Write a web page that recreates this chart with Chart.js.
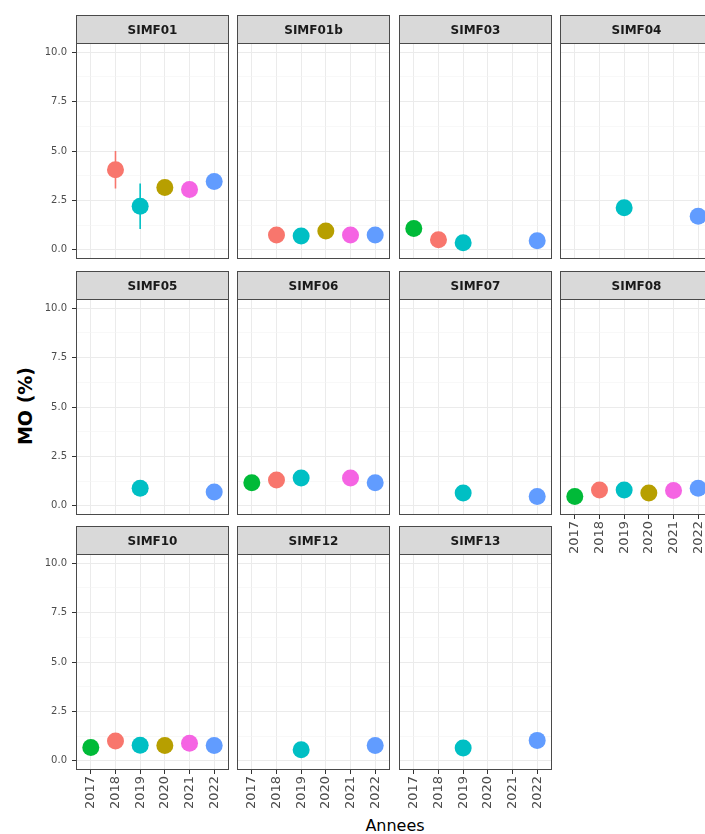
<!DOCTYPE html>
<html>
<head>
<meta charset="utf-8">
<script src="https://cdn.jsdelivr.net/npm/chart.js@4/dist/chart.umd.min.js"></script>
<style>
  html, body { margin: 0; padding: 0; background: #fff; width: 705px; height: 834px; overflow: hidden; position: relative; font-family: "DejaVu Sans", sans-serif; }
  canvas.panel { position: absolute; }
  #ytitle { position: absolute; left: 25px; top: 406px; transform: translate(-50%, -50%) rotate(-90deg); font-weight: bold; font-size: 19px; color: #000; white-space: nowrap; }
  #xtitle { position: absolute; left: 395px; top: 825px; transform: translate(-50%, -50%); font-size: 16px; color: #000; white-space: nowrap; }
</style>
</head>
<body>
<div id="ytitle">MO (%)</div>
<div id="xtitle">Annees</div>
<script>
// Years on the x axis and the colour given to each year
const years = ['2017', '2018', '2019', '2020', '2021', '2022'];
const yearColors = ['#00BA38', '#F8766D', '#00BFC4', '#B79F00', '#F564E3', '#619CFF'];

// y axis breaks (labelled) and minor grid positions
const yTicks = [0, 2.5, 5, 7.5, 10];
const yMinor = [1.25, 3.75, 6.25, 8.75];

// Sites, in facet order
const sites = ['SIMF01', 'SIMF01b', 'SIMF03', 'SIMF04', 'SIMF05', 'SIMF06', 'SIMF07', 'SIMF08', 'SIMF10', 'SIMF12', 'SIMF13'];

// Organic matter (%) per year, 2017..2022 (null = no sample)
const SIMF01  = [null, 4.05, 2.2,  3.15, 3.05, 3.45];
const SIMF01b = [null, 0.75, 0.7,  0.95, 0.75, 0.75];
const SIMF03  = [1.08, 0.5,  0.35, null, null, 0.45];
const SIMF04  = [null, null, 2.13, null, null, 1.7];
const SIMF05  = [null, null, 0.89, null, null, 0.69];
const SIMF06  = [1.16, 1.3,  1.4,  null, 1.4,  1.16];
const SIMF07  = [null, null, 0.64, null, null, 0.47];
const SIMF08  = [0.47, 0.8,  0.8,  0.64, 0.77, 0.89];
const SIMF10  = [0.67, 1.0,  0.78, 0.77, 0.88, 0.77];
const SIMF12  = [null, null, 0.56, null, null, 0.77];
const SIMF13  = [null, null, 0.64, null, null, 1.03];

// Spread around the SIMF01 means
const SIMF01_low  = [null, 3.1, 1.05, null, 2.75, null];
const SIMF01_high = [null, 5.0, 3.35, null, 3.35, null];

const siteValues = { SIMF01, SIMF01b, SIMF03, SIMF04, SIMF05, SIMF06, SIMF07, SIMF08, SIMF10, SIMF12, SIMF13 };
const siteLow  = { SIMF01: SIMF01_low };
const siteHigh = { SIMF01: SIMF01_high };

// Facet grid geometry
const colLeft  = [76, 237, 399, 560];
const stripTop = [15, 271, 526];
const panelW = 153, stripH = 28, plotH = 216;
const yAxisW = 48, xAxisH = 52;
const withXLabels = ['SIMF08', 'SIMF10', 'SIMF12', 'SIMF13'];

const FONT = '"DejaVu Sans", sans-serif';
const BORDER = '#4a4a4a';

function noPadding(s) {
  s.paddingLeft = 0; s.paddingRight = 0; s.paddingTop = 0; s.paddingBottom = 0;
}

const facetPlugin = {
  id: 'facet',
  beforeDraw(chart) {
    const a = chart.chartArea, c = chart.ctx;
    c.save();
    c.fillStyle = '#ffffff';
    c.fillRect(a.left, a.top, a.right - a.left, a.bottom - a.top);
    c.restore();
  },
  beforeDatasetsDraw(chart) {
    const site = chart.options.plugins.facet.site;
    const lo = siteLow[site], hi = siteHigh[site];
    if (!lo) return;
    const c = chart.ctx, xs = chart.scales.x, ys = chart.scales.y;
    c.save();
    c.lineWidth = 1.6;
    lo.forEach((l, i) => {
      if (l == null || hi[i] == null) return;
      const x = xs.getPixelForValue(i);
      c.strokeStyle = yearColors[i];
      c.beginPath();
      c.moveTo(x, ys.getPixelForValue(l));
      c.lineTo(x, ys.getPixelForValue(hi[i]));
      c.stroke();
    });
    c.restore();
  },
  afterDraw(chart) {
    const site = chart.options.plugins.facet.site;
    const a = chart.chartArea, c = chart.ctx;
    const L = Math.round(a.left) + 0.5, R = Math.round(a.right) - 0.5;
    const T = Math.round(a.top) + 0.5, B = Math.round(a.bottom) - 0.5;
    c.save();
    // strip
    c.fillStyle = '#D9D9D9';
    c.fillRect(L, T - stripH, R - L, stripH);
    c.strokeStyle = BORDER;
    c.lineWidth = 1;
    c.strokeRect(L, T - stripH, R - L, stripH);
    // panel border
    c.strokeRect(L, T, R - L, B - T);
    // strip label
    c.fillStyle = '#1A1A1A';
    c.font = 'bold 12px ' + FONT;
    c.textAlign = 'center';
    c.textBaseline = 'middle';
    c.fillText(site, (L + R) / 2, T - stripH / 2 + 1);
    c.restore();
  }
};

sites.forEach((site, k) => {
  const col = k % 4, row = Math.floor(k / 4);
  const showY = col === 0;
  const showX = withXLabels.includes(site);
  const yw = showY ? yAxisW : 0;
  const xh = showX ? xAxisH : 0;

  const cv = document.createElement('canvas');
  cv.className = 'panel';
  const W = yw + panelW, H = stripH + plotH + xh;
  cv.width = W; cv.height = H;
  cv.style.width = W + 'px'; cv.style.height = H + 'px';
  cv.style.left = (colLeft[col] - yw) + 'px';
  cv.style.top = stripTop[row] + 'px';
  document.body.appendChild(cv);

  const vals = siteValues[site];
  const pts = [], cols = [];
  vals.forEach((v, i) => { if (v != null) { pts.push({ x: i, y: v }); cols.push(yearColors[i]); } });

  new Chart(cv, {
    type: 'scatter',
    data: {
      datasets: [{
        data: pts,
        pointRadius: 8.5,
        pointHoverRadius: 8.5,
        pointBorderWidth: 0,
        pointBackgroundColor: cols,
        pointBorderColor: cols,
        clip: false
      }]
    },
    options: {
      responsive: false,
      animation: false,
      devicePixelRatio: 1,
      events: [],
      layout: { autoPadding: false, padding: { top: stripH, right: 0, bottom: 0, left: 0 } },
      plugins: { legend: { display: false }, tooltip: { enabled: false }, facet: { site } },
      scales: {
        x: {
          type: 'linear', min: -0.6, max: 5.6, bounds: 'data',
          afterBuildTicks: s => { s.ticks = years.map((_, i) => ({ value: i })); },
          afterFit: s => { s.height = xh; noPadding(s); },
          border: { display: false },
          grid: { color: '#EBEBEB', lineWidth: 1, drawTicks: showX, tickLength: 4, tickColor: '#333333', tickWidth: 1 },
          ticks: {
            display: showX, autoSkip: false, maxRotation: 90, minRotation: 90, padding: 2,
            color: '#4D4D4D', font: { family: FONT, size: 13 },
            callback: v => years[v]
          }
        },
        y: {
          type: 'linear', min: -0.47, max: 10.47, bounds: 'data',
          afterBuildTicks: s => { s.ticks = yTicks.concat(yMinor).sort((p, q) => p - q).map(v => ({ value: v })); },
          afterFit: s => { s.width = yw; noPadding(s); },
          border: { display: false },
          grid: {
            drawTicks: showY, tickLength: 4, tickWidth: 1,
            color: ctx => yTicks.includes(ctx.tick.value) ? '#EBEBEB' : '#F4F4F4',
            lineWidth: ctx => yTicks.includes(ctx.tick.value) ? 1 : 0.6,
            tickColor: ctx => yTicks.includes(ctx.tick.value) ? '#333333' : 'rgba(0,0,0,0)'
          },
          ticks: {
            display: showY, padding: 5, autoSkip: false,
            color: '#4D4D4D', font: { family: FONT, size: 10 },
            callback: v => yTicks.includes(v) ? v.toFixed(1) : ''
          }
        }
      }
    },
    plugins: [facetPlugin]
  });
});
</script>
</body>
</html>
